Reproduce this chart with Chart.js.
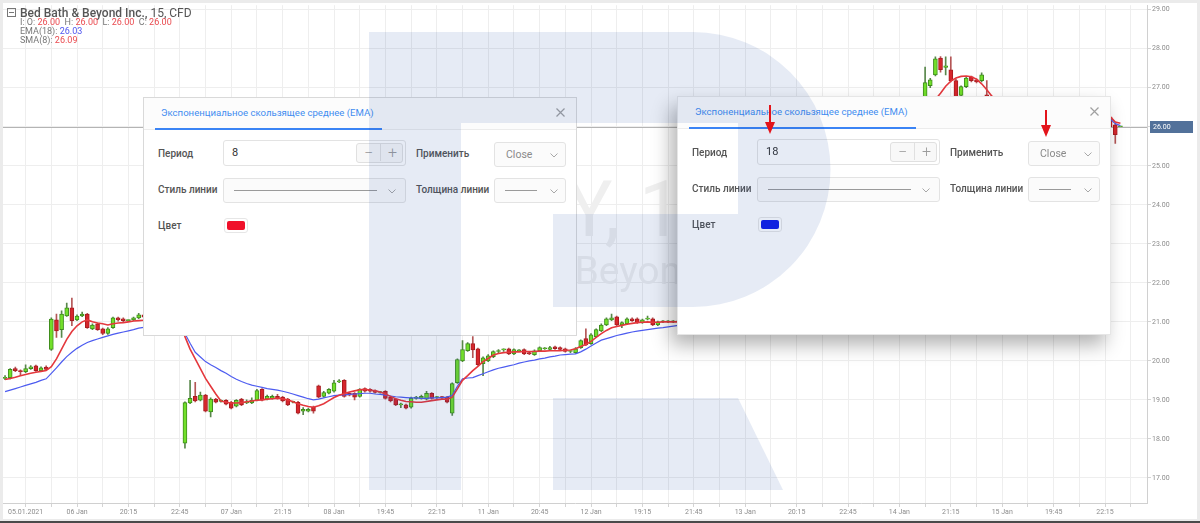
<!DOCTYPE html>
<html lang="ru">
<head>
<meta charset="utf-8">
<title>Bed Bath &amp; Beyond Inc., 15, CFD</title>
<script src="https://cdn.jsdelivr.net/npm/chart.js@4.4.1/dist/chart.umd.min.js"></script>
<style>
  html, body { margin: 0; padding: 0; }
  body { position: relative; width: 1200px; height: 523px; overflow: hidden; background: #ebebeb; font-family: Roboto, "Noto Sans", Arial, sans-serif; }
  #frame { position: absolute; left: 3px; top: 3px; width: 1194px; height: 516px; background: #fff; }
  #foot { position: absolute; left: 0; top: 521px; width: 1200px; height: 2px; background: #4a4a4a; }
  #chart { position: absolute; left: 0; top: 0; }
  .lg { position: absolute; white-space: nowrap; color: #777; }
  .lg.name { left: 7px; top: 5px; font-size: 12px; line-height: 16px; color: #555; }
  .lg.name b { font-weight: 500; }
  .lg .box { display: inline-block; width: 7px; height: 7px; border: 1px solid #777; position: relative; margin-right: 4px; vertical-align: 0px; }
  .lg .box::after { content: ""; position: absolute; left: 1px; right: 1px; top: 3px; height: 1px; background: #777; }
  .lg.row { left: 20px; font-size: 9px; line-height: 9px; }
  .red { color: #ea4a4f; }
  .blue { color: #4f55f0; }

  .dlg { position: absolute; width: 432px; height: 237px; background: #fff; border: 1px solid #d9d9d9; }
  .dlg.front { box-shadow: -6px 10px 18px rgba(0,0,0,0.30); border-color: #e6e6e6; }
  .dlg .hd { position: absolute; left: 0; top: 0; right: 0; height: 31px; background: #fcfcfc; border-bottom: 1px solid #ececec; }
  .dlg .grip { position: absolute; left: 4px; top: 10px; width: 4px; height: 11px;
    background-image: radial-gradient(#b9b9b9 45%, transparent 50%); background-size: 2px 2px; }
  .dlg .tab { position: absolute; left: 17px; top: 8px; font-size: 9.6px; line-height: 13px; color: #3f8cf0; white-space: nowrap; }
  .dlg .tabline { position: absolute; left: 11px; top: 30px; width: 227px; height: 2px; background: #3b84f5; }
  .dlg .x { position: absolute; left: 412px; top: 10px; }
  .dlg .lbl { position: absolute; left: 14px; font-size: 10px; line-height: 12px; color: #555; font-weight: 500; white-space: nowrap; }
  .dlg .field { position: absolute; box-sizing: border-box; border: 1px solid #e3e3e3; border-radius: 3px; background: #fff; }
  .dlg .sel { background: #fbfbfb; }
  .dlg .val { position: absolute; left: 8px; top: 0; line-height: 24px; font-size: 11px; color: #333; }
  .dlg .step { position: absolute; left: 132px; top: 2px; width: 47px; height: 20px; box-sizing: border-box; border: 1px solid #e0e0e0; border-radius: 3px; background: #f8f8f8; }
  .dlg .step span { position: absolute; top: 0; width: 23px; text-align: center; line-height: 17px; font-size: 16px; font-weight: 300; color: #9c9c9c; }
  .dlg .step span + span { left: 23px; border-left: 1px solid #e0e0e0; }
  .dlg .opt { position: absolute; left: 11px; top: 0; line-height: 23px; font-size: 10.5px; color: #8a8a8a; }
  .dlg .ln { position: absolute; left: 10px; top: 11px; height: 1px; background: #9a9a9a; }
  .dlg .chev { position: absolute; top: 10px; }
  .dlg .swatch { position: absolute; width: 24px; height: 15px; box-sizing: border-box; border: 1px solid #e6e6e6; border-radius: 3px; background: #fff; }
  .dlg .swatch i { position: absolute; left: 2px; top: 2px; right: 2px; bottom: 2px; border-radius: 2px; }

  #logo { position: absolute; left: 0; top: 0; pointer-events: none; }
  #marks { position: absolute; left: 0; top: 0; pointer-events: none; }
</style>
</head>
<body>
<div id="frame"></div>
<canvas id="chart" width="1200" height="519"></canvas>
<div id="foot"></div>

<div class="lg name"><span class="box"></span><b>Bed Bath &amp; Beyond Inc.,</b> 15, CFD</div>
<div class="lg row" style="top:18px">I: O: <span class="red">26.00</span>&nbsp; H: <span class="red">26.00</span>&nbsp; L: <span class="red">26.00</span>&nbsp; C: <span class="red">26.00</span></div>
<div class="lg row" style="top:27px">EMA(18): <span class="blue">26.03</span></div>
<div class="lg row" style="top:36px">SMA(8): <span class="red">26.09</span></div>

<script>
// 15-minute bars, index 0 = first bar visible on the left
const timeLabels = ["05.01.2021", "06 Jan", "20:15", "22:45", "07 Jan", "21:15", "08 Jan", "19:45",
  "22:15", "11 Jan", "20:45", "12 Jan", "19:15", "21:45", "13 Jan", "20:15", "22:45", "14 Jan",
  "21:15", "15 Jan", "19:45", "22:15"];
const firstLabelBar = 4;   // bar under "05.01.2021"
const barsPerLabel = 10;
const barsPerGrid = 5;

const priceTicks = [17, 18, 19, 20, 21, 22, 23, 24, 25, 26, 27, 28, 29];

const openPrices = [
  19.55, 19.57, 19.80, 19.75, 19.72, 19.80, 19.87, 19.75, 19.84, 20.29,
  21.05, 20.80, 21.15, 21.36, 21.05, 21.15, 21.20, 20.82, 20.95, 20.82,
  20.70, 20.85, 21.10, 21.08, 21.03, 21.05, 21.10, 21.18, 21.12, 21.08,
  21.10, 21.06, 21.04, 21.08, 21.03, 17.89, 18.92, 19.09, 18.99, 19.12,
  18.69, 19.02, 18.96, 18.99, 18.94, 18.84, 19.02, 18.92, 18.92, 18.99,
  19.27, 19.02, 19.04, 19.09, 19.07, 19.02, 18.94, 18.94, 18.71, 18.71,
  18.81, 19.36, 19.09, 19.17, 19.22, 19.46, 19.50, 19.17, 19.17, 19.09,
  19.29, 19.27, 19.24, 19.19, 19.22, 19.07, 19.02, 18.87, 18.87, 18.81,
  19.04, 19.04, 19.02, 19.17, 19.06, 19.07, 19.07, 18.66, 19.44, 20.00,
  20.26, 20.44, 20.31, 19.93, 20.00, 20.11, 20.24, 20.28, 20.31, 20.18,
  20.26, 20.29, 20.21, 20.16, 20.26, 20.31, 20.29, 20.36, 20.34, 20.31,
  20.24, 20.21, 20.34, 20.57, 20.44, 20.62, 20.77, 20.92, 21.05, 21.13,
  20.92, 20.95, 21.08, 21.08, 20.98, 21.07, 21.08, 20.92, 21.00, 21.00,
  21.00, 21.00, 21.02, 21.05, 21.10, 21.08, 21.12, 21.15, 21.10, 21.20,
  21.18, 21.25, 21.30, 21.28, 21.35, 21.40, 21.45, 22.00, 22.50, 22.30,
  22.80, 23.20, 23.00, 23.50, 23.80, 24.20, 24.00, 24.50, 24.80, 25.00,
  24.90, 25.20, 25.40, 25.30, 25.60, 25.80, 25.70, 25.90, 26.00, 26.10,
  25.95, 26.20, 26.30, 26.25, 26.40, 26.35, 26.50, 26.45, 26.60, 26.72,
  27.05, 27.33, 27.76, 27.52, 27.46, 27.18, 26.80, 27.03, 27.28, 27.20,
  27.18, 26.82, 26.70, 26.50, 26.40, 26.60, 26.45, 26.30, 26.50, 26.35,
  26.20, 26.40, 26.30, 26.25, 26.45, 26.30, 26.20, 26.35, 26.30, 26.15,
  26.30, 26.25, 26.20, 26.35, 26.30, 26.25, 26.05, 26.00
];
const highPrices = [
  19.62, 19.80, 19.84, 19.77, 19.90, 19.88, 19.89, 19.85, 19.87, 21.10,
  21.20, 21.28, 21.48, 21.61, 21.18, 21.25, 21.22, 20.95, 20.97, 20.84,
  20.85, 21.12, 21.12, 21.10, 21.05, 21.12, 21.22, 21.22, 21.16, 21.14,
  21.15, 21.12, 21.10, 21.12, 21.08, 18.95, 19.50, 19.45, 19.20, 19.14,
  19.05, 19.04, 19.00, 19.01, 18.96, 19.01, 19.04, 19.00, 19.05, 19.27,
  19.29, 19.12, 19.12, 19.14, 19.09, 19.04, 18.97, 18.96, 18.80, 18.79,
  18.84, 19.38, 19.22, 19.29, 19.50, 19.52, 19.52, 19.19, 19.19, 19.29,
  19.31, 19.29, 19.26, 19.22, 19.24, 19.09, 19.04, 18.92, 18.89, 19.07,
  19.09, 19.12, 19.22, 19.19, 19.09, 19.09, 19.09, 19.44, 20.05, 20.52,
  20.47, 20.62, 20.33, 20.10, 20.16, 20.26, 20.29, 20.31, 20.33, 20.31,
  20.29, 20.31, 20.23, 20.28, 20.36, 20.34, 20.37, 20.38, 20.36, 20.33,
  20.26, 20.34, 20.54, 20.82, 20.70, 20.82, 20.95, 21.10, 21.20, 21.15,
  21.00, 21.10, 21.10, 21.10, 21.07, 21.15, 21.10, 21.02, 21.03, 21.03,
  21.03, 21.08, 21.10, 21.16, 21.16, 21.18, 21.21, 21.21, 21.26, 21.26,
  21.31, 21.36, 21.36, 21.41, 21.46, 21.51, 22.10, 22.60, 22.58, 22.88,
  23.30, 23.26, 23.58, 23.88, 24.30, 24.26, 24.58, 24.88, 25.08, 25.06,
  25.28, 25.48, 25.46, 25.68, 25.88, 25.86, 25.96, 26.08, 26.18, 26.16,
  26.28, 26.38, 26.36, 26.48, 26.46, 26.56, 26.56, 26.66, 26.70, 27.53,
  27.24, 27.79, 27.80, 27.79, 27.79, 27.22, 27.05, 27.28, 27.30, 27.23,
  27.38, 27.18, 26.72, 26.58, 26.66, 26.65, 26.50, 26.56, 26.55, 26.40,
  26.46, 26.45, 26.36, 26.50, 26.50, 26.35, 26.40, 26.40, 26.35, 26.36,
  26.35, 26.30, 26.40, 26.40, 26.45, 26.35, 26.07, 26.00
];
const lowPrices = [
  19.52, 19.54, 19.72, 19.62, 19.70, 19.78, 19.73, 19.73, 19.76, 20.27,
  20.60, 20.60, 21.14, 20.90, 21.03, 21.13, 20.83, 20.80, 20.78, 20.67,
  20.68, 20.83, 21.02, 21.00, 21.01, 21.03, 21.08, 21.10, 21.05, 21.02,
  21.04, 21.00, 20.98, 21.00, 20.96, 17.76, 18.90, 18.95, 18.97, 18.69,
  18.56, 18.92, 18.94, 18.87, 18.77, 18.82, 18.85, 18.90, 18.90, 18.97,
  18.97, 19.00, 19.02, 19.02, 18.95, 18.85, 18.92, 18.64, 18.62, 18.69,
  18.66, 19.05, 19.07, 19.15, 19.20, 19.44, 19.07, 19.10, 19.00, 19.07,
  19.20, 19.20, 19.17, 19.17, 19.02, 18.95, 18.85, 18.80, 18.77, 18.79,
  19.02, 19.02, 19.00, 19.02, 19.04, 19.04, 18.92, 18.60, 19.42, 19.98,
  20.24, 20.08, 19.88, 19.62, 19.98, 20.08, 20.21, 20.24, 20.16, 20.16,
  20.24, 20.16, 20.16, 20.14, 20.24, 20.29, 20.27, 20.29, 20.27, 20.22,
  20.21, 20.19, 20.32, 20.39, 20.42, 20.60, 20.75, 20.90, 21.03, 20.90,
  20.85, 20.93, 21.01, 20.96, 20.96, 21.05, 20.90, 20.90, 20.98, 20.98,
  20.98, 20.94, 20.96, 20.99, 21.02, 21.02, 21.06, 21.04, 21.04, 21.12,
  21.12, 21.19, 21.22, 21.22, 21.29, 21.34, 21.40, 21.95, 22.22, 22.25,
  22.74, 22.92, 22.95, 23.44, 23.74, 23.92, 23.94, 24.44, 24.74, 24.84,
  24.85, 25.14, 25.24, 25.25, 25.54, 25.64, 25.65, 25.84, 25.94, 25.90,
  25.90, 26.14, 26.18, 26.20, 26.28, 26.30, 26.38, 26.40, 26.54, 26.60,
  27.00, 27.30, 27.40, 27.33, 27.15, 26.74, 26.75, 27.00, 27.15, 27.12,
  27.15, 26.72, 26.45, 26.34, 26.35, 26.40, 26.24, 26.25, 26.30, 26.14,
  26.15, 26.24, 26.20, 26.20, 26.24, 26.14, 26.15, 26.25, 26.10, 26.10,
  26.20, 26.14, 26.15, 26.24, 26.25, 25.97, 25.57, 26.00
];
const closePrices = [
  19.58, 19.78, 19.75, 19.72, 19.80, 19.85, 19.75, 19.82, 19.78, 21.07,
  20.77, 21.20, 21.36, 21.03, 21.15, 21.20, 20.85, 20.92, 20.80, 20.70,
  20.82, 21.10, 21.05, 21.03, 21.03, 21.10, 21.18, 21.12, 21.08, 21.10,
  21.06, 21.04, 21.08, 21.03, 21.00, 18.93, 19.04, 18.97, 19.12, 18.71,
  19.02, 18.94, 18.98, 18.89, 18.79, 18.99, 18.87, 18.94, 18.99, 19.24,
  18.99, 19.09, 19.09, 19.04, 18.97, 18.87, 18.95, 18.66, 18.76, 18.76,
  18.71, 19.07, 19.19, 19.27, 19.44, 19.48, 19.09, 19.12, 19.07, 19.27,
  19.22, 19.22, 19.19, 19.20, 19.04, 18.97, 18.87, 18.88, 18.79, 19.04,
  19.07, 19.09, 19.17, 19.04, 19.07, 19.06, 18.94, 19.42, 20.03, 20.29,
  20.44, 20.28, 19.90, 20.08, 20.13, 20.24, 20.24, 20.29, 20.18, 20.29,
  20.26, 20.18, 20.18, 20.26, 20.34, 20.32, 20.34, 20.31, 20.29, 20.24,
  20.24, 20.31, 20.52, 20.41, 20.67, 20.80, 20.92, 21.08, 21.10, 20.92,
  20.98, 21.08, 21.03, 20.98, 21.05, 21.08, 20.92, 21.00, 21.00, 21.01,
  21.00, 21.02, 21.05, 21.10, 21.08, 21.12, 21.15, 21.10, 21.20, 21.18,
  21.25, 21.30, 21.28, 21.35, 21.40, 21.45, 22.00, 22.50, 22.30, 22.80,
  23.20, 23.00, 23.50, 23.80, 24.20, 24.00, 24.50, 24.80, 25.00, 24.90,
  25.20, 25.40, 25.30, 25.60, 25.80, 25.70, 25.90, 26.00, 26.10, 25.95,
  26.20, 26.30, 26.25, 26.40, 26.35, 26.50, 26.45, 26.60, 26.68, 27.13,
  27.20, 27.74, 27.46, 27.56, 27.18, 26.77, 27.03, 27.25, 27.18, 27.15,
  27.33, 26.77, 26.50, 26.40, 26.60, 26.45, 26.30, 26.50, 26.35, 26.20,
  26.40, 26.30, 26.25, 26.45, 26.30, 26.20, 26.35, 26.30, 26.15, 26.30,
  26.25, 26.20, 26.35, 26.30, 26.40, 26.00, 25.80, 26.00
];

// red line (SMA 8) and blue line (EMA 18), one value per bar
const sma8 = [
  19.52, 19.55, 19.58, 19.62, 19.65, 19.68, 19.71, 19.73, 19.75, 19.85,
  20.05, 20.30, 20.55, 20.75, 20.90, 21.00, 21.05, 21.00, 20.97, 20.95,
  20.92, 20.95, 20.97, 20.98, 21.00, 21.02, 21.03, 21.04, 21.05, 21.06,
  21.06, 21.06, 21.06, 21.05, 21.05, 20.62, 20.30, 20.05, 19.80, 19.55,
  19.35, 19.15, 18.97, 18.94, 18.92, 18.92, 18.93, 18.95, 18.97, 18.99,
  19.00, 19.02, 19.03, 19.04, 19.03, 19.00, 18.95, 18.90, 18.86, 18.83,
  18.81, 18.85, 18.90, 18.98, 19.06, 19.12, 19.16, 19.20, 19.23, 19.26,
  19.27, 19.25, 19.23, 19.20, 19.15, 19.09, 19.03, 18.99, 18.96, 18.95,
  18.94, 18.94, 18.96, 18.98, 19.00, 19.02, 19.02, 19.07, 19.28, 19.50,
  19.62, 19.75, 19.86, 19.98, 20.06, 20.15, 20.19, 20.21, 20.22, 20.23,
  20.23, 20.24, 20.24, 20.24, 20.25, 20.25, 20.26, 20.26, 20.26, 20.27,
  20.28, 20.31, 20.37, 20.42, 20.50, 20.60, 20.70, 20.78, 20.85, 20.88,
  20.91, 20.94, 20.96, 20.98, 20.99, 21.00, 20.99, 20.99, 21.00, 21.00,
  21.00, 21.00, 21.02, 21.04, 21.06, 21.07, 21.09, 21.10, 21.12, 21.14,
  21.17, 21.20, 21.23, 21.26, 21.30, 21.35, 21.50, 21.70, 21.85, 22.05,
  22.30, 22.45, 22.65, 22.90, 23.15, 23.35, 23.60, 23.85, 24.10, 24.30,
  24.50, 24.70, 24.85, 25.00, 25.20, 25.30, 25.45, 25.60, 25.70, 25.75,
  25.85, 25.95, 26.02, 26.10, 26.15, 26.22, 26.27, 26.35, 26.42, 26.52,
  26.60, 26.70, 26.86, 27.04, 27.17, 27.25, 27.29, 27.30, 27.28, 27.22,
  27.10, 26.95, 26.78, 26.72, 26.68, 26.63, 26.60, 26.56, 26.52, 26.50,
  26.47, 26.45, 26.43, 26.42, 26.40, 26.38, 26.36, 26.35, 26.33, 26.32,
  26.30, 26.29, 26.28, 26.27, 26.27, 26.26, 26.12, 26.09
];
const ema18 = [
  19.21, 19.25, 19.29, 19.33, 19.37, 19.41, 19.45, 19.50, 19.54, 19.68,
  19.82, 19.97, 20.11, 20.22, 20.32, 20.40, 20.47, 20.52, 20.56, 20.60,
  20.64, 20.68, 20.71, 20.74, 20.77, 20.80, 20.84, 20.86, 20.87, 20.88,
  20.89, 20.90, 20.90, 20.91, 20.91, 20.70, 20.45, 20.22, 20.10, 19.98,
  19.90, 19.83, 19.75, 19.68, 19.60, 19.53, 19.47, 19.42, 19.38, 19.35,
  19.32, 19.29, 19.27, 19.25, 19.22, 19.19, 19.15, 19.11, 19.07, 19.03,
  19.00, 19.02, 19.05, 19.08, 19.11, 19.12, 19.13, 19.14, 19.15, 19.16,
  19.17, 19.17, 19.15, 19.14, 19.12, 19.10, 19.08, 19.07, 19.06, 19.05,
  19.05, 19.04, 19.04, 19.05, 19.05, 19.06, 19.07, 19.12, 19.35, 19.54,
  19.56, 19.57, 19.62, 19.67, 19.72, 19.77, 19.81, 19.84, 19.87, 19.90,
  19.94, 19.97, 20.00, 20.02, 20.05, 20.07, 20.10, 20.12, 20.15, 20.16,
  20.17, 20.18, 20.23, 20.30, 20.38, 20.46, 20.53, 20.57, 20.61, 20.65,
  20.68, 20.71, 20.74, 20.76, 20.78, 20.80, 20.82, 20.84, 20.85, 20.87,
  20.89, 20.91, 20.93, 20.95, 20.97, 20.99, 21.01, 21.03, 21.05, 21.07,
  21.10, 21.13, 21.15, 21.18, 21.21, 21.24, 21.32, 21.45, 21.55, 21.70,
  21.85, 22.00, 22.15, 22.32, 22.50, 22.65, 22.82, 23.00, 23.17, 23.30,
  23.45, 23.60, 23.75, 23.90, 24.05, 24.20, 24.32, 24.45, 24.58, 24.70,
  24.82, 24.93, 25.04, 25.14, 25.24, 25.33, 25.42, 25.51, 25.60, 25.72,
  25.85, 26.00, 26.15, 26.25, 26.35, 26.40, 26.45, 26.50, 26.52, 26.54,
  26.55, 26.54, 26.52, 26.50, 26.49, 26.47, 26.46, 26.45, 26.43, 26.41,
  26.40, 26.38, 26.36, 26.35, 26.33, 26.32, 26.30, 26.29, 26.28, 26.27,
  26.26, 26.25, 26.24, 26.23, 26.22, 26.20, 26.08, 26.03
];

const symbolText = "BBBY, 15";
const companyName = "Bed Bath & Beyond Inc.";

const bars = closePrices.map((_, i) => i);
const isUp = (i) => closePrices[i] >= openPrices[i];
const lastClose = closePrices[closePrices.length - 1];

const gridBars = [];
for (let b = firstLabelBar; b < 222; b += barsPerGrid) gridBars.push(b);

function labelFor(v) {
  const k = (v - firstLabelBar) / barsPerLabel;
  return Number.isInteger(k) && timeLabels[k] ? timeLabels[k] : "";
}

// big faint symbol name behind the bars + current price line and tag
const backdropText = {
  id: "backdropText",
  beforeDatasetsDraw(chart) {
    const { ctx, chartArea } = chart;
    const cx = (chartArea.left + chartArea.right) / 2;
    const cy = (chartArea.top + chartArea.bottom) / 2;
    ctx.save();
    ctx.fillStyle = "#efefef";
    ctx.textAlign = "center";
    ctx.textBaseline = "alphabetic";
    ctx.font = "77px Roboto";
    ctx.fillText(symbolText, cx, cy - 18);
    ctx.font = "39px Roboto";
    ctx.fillText(companyName, cx, cy + 30);
    const y = Math.round(chart.scales.y.getPixelForValue(lastClose)) + 0.5;
    ctx.strokeStyle = "#b4b4b4";
    ctx.lineWidth = 1;
    ctx.beginPath();
    ctx.moveTo(chartArea.left, y);
    ctx.lineTo(chartArea.right, y);
    ctx.stroke();
    ctx.restore();
  },
  afterDraw(chart) {
    const { ctx, chartArea } = chart;
    const y = Math.round(chart.scales.y.getPixelForValue(lastClose));
    ctx.save();
    ctx.fillStyle = "#52719a";
    ctx.fillRect(chartArea.right + 3, y - 6, 43, 12);
    ctx.fillStyle = "#fff";
    ctx.font = "7px Roboto";
    ctx.textBaseline = "middle";
    ctx.fillText(lastClose.toFixed(2), chartArea.right + 6, y + 0.5);
    ctx.restore();
  }
};

Chart.defaults.font.family = "Roboto";

new Chart(document.getElementById("chart"), {
  type: "bar",
  data: {
    datasets: [
      {
        type: "line",
        label: "SMA(8)",
        data: bars.map((i) => ({ x: i, y: sma8[i] })),
        borderColor: "#e4383d",
        borderWidth: 1.6,
        pointRadius: 0,
        tension: 0,
      },
      {
        type: "line",
        label: "EMA(18)",
        data: bars.map((i) => ({ x: i, y: ema18[i] })),
        borderColor: "#4d5cf0",
        borderWidth: 1.2,
        pointRadius: 0,
        tension: 0,
      },
      {
        label: "body",
        data: bars.map((i) => ({ x: i, y: [openPrices[i], closePrices[i]] })),
        backgroundColor: bars.map((i) => (isUp(i) ? "#72df2a" : "#d6262c")),
        borderColor: bars.map((i) => (isUp(i) ? "#3e8d1d" : "#a81c20")),
        borderWidth: 1,
        borderSkipped: false,
        barThickness: 4,
        minBarLength: 1,
        grouped: false,
      },
      {
        label: "wick",
        data: bars.map((i) => ({ x: i, y: [lowPrices[i], highPrices[i]] })),
        backgroundColor: bars.map((i) => (isUp(i) ? "#58874a" : "#b45656")),
        borderWidth: 0,
        barThickness: 1,
        grouped: false,
      },
    ],
  },
  options: {
    responsive: false,
    animation: false,
    events: [],
    layout: { padding: { top: 3, left: 3, right: 0, bottom: 0 } },
    plugins: { legend: { display: false }, tooltip: { enabled: false } },
    scales: {
      x: {
        type: "linear",
        min: -0.4,
        max: 222.17,
        bounds: "data",
        offset: false,
        grid: { color: "#eeeeee", offset: false, tickLength: 4, tickColor: "#d4d4d4" },
        border: { color: "#d0d0d0" },
        afterBuildTicks: (s) => { s.ticks = gridBars.map((v) => ({ value: v })); },
        afterFit: (s) => { s.height = 16; },
        ticks: {
          autoSkip: false,
          maxRotation: 0,
          padding: 1,
          color: "#8c8c8c",
          font: { size: 7 },
          callback: (v) => labelFor(v),
        },
      },
      y: {
        position: "right",
        min: 16.357,
        max: 29.115,
        bounds: "data",
        grid: { color: "#eeeeee", tickLength: 4, tickColor: "#d4d4d4" },
        border: { color: "#d0d0d0" },
        afterBuildTicks: (s) => { s.ticks = priceTicks.map((v) => ({ value: v })); },
        afterFit: (s) => { s.width = 53; },
        ticks: {
          padding: 1,
          color: "#8c8c8c",
          font: { size: 7 },
          callback: (v) => Number(v).toFixed(2),
        },
      },
    },
  },
  plugins: [backdropText],
});

// indicator settings dialogs
const chev = (left) =>
  `<svg class="chev" style="left:${left}px" width="8" height="5"><polyline points="0.5,0.5 4,4 7.5,0.5" fill="none" stroke="#a8a8a8" stroke-width="1"/></svg>`;

function addDialog(left, top, period, color, front) {
  const d = document.createElement("div");
  d.className = "dlg" + (front ? " front" : "");
  d.style.left = left + "px";
  d.style.top = top + "px";
  d.innerHTML = `
    <div class="hd"><span class="grip"></span>
      <span class="tab">Экспоненциальное скользящее среднее (EMA)</span>
      <span class="tabline"></span>
      <svg class="x" width="9" height="9"><path d="M0.5 0.5L8.5 8.5M8.5 0.5L0.5 8.5" stroke="#a0a0a0" stroke-width="1.2"/></svg>
    </div>
    <div class="lbl" style="top:50px">Период</div>
    <div class="field" style="left:79px;top:42px;width:183px;height:26px">
      <span class="val">${period}</span>
      <div class="step"><span>−</span><span>+</span></div>
    </div>
    <div class="lbl" style="left:272px;top:50px">Применить</div>
    <div class="field sel" style="left:350px;top:44px;width:72px;height:25px"><span class="opt">Close</span>${chev(55)}</div>
    <div class="lbl" style="top:86px">Стиль линии</div>
    <div class="field sel" style="left:79px;top:80px;width:183px;height:25px"><span class="ln" style="width:143px"></span>${chev(164)}</div>
    <div class="lbl" style="left:272px;top:86px">Толщина линии</div>
    <div class="field sel" style="left:350px;top:80px;width:72px;height:25px"><span class="ln" style="width:32px"></span>${chev(55)}</div>
    <div class="lbl" style="top:122px">Цвет</div>
    <div class="swatch" style="left:80px;top:120px"><i style="background:${color}"></i></div>`;
  document.body.appendChild(d);
}
addDialog(143, 97, "8", "#f0102a", false);
addDialog(677, 96, "18", "#0f1ee8", true);
</script>

<svg id="logo" width="1200" height="523" viewBox="0 0 1200 523">
  <g fill="rgb(30,75,160)" fill-opacity="0.11">
    <rect x="369" y="32" width="92" height="458"/>
    <path d="M461 32 H693 A137.5 137.5 0 0 1 693 307 H553 V214 H738 V123 H461 Z"/>
    <path d="M553 398 H738 L783 490 H553 Z"/>
  </g>
</svg>
<svg id="marks" width="1200" height="523" viewBox="0 0 1200 523">
  <g fill="#e3141b" stroke="#e3141b">
    <line x1="770" y1="105" x2="770" y2="124" stroke-width="2"/>
    <path d="M765 122 L775 122 L770 134 Z" stroke="none"/>
    <line x1="1046" y1="110" x2="1046" y2="127" stroke-width="2"/>
    <path d="M1041 125 L1051 125 L1046 137 Z" stroke="none"/>
  </g>
</svg>
</body>
</html>
